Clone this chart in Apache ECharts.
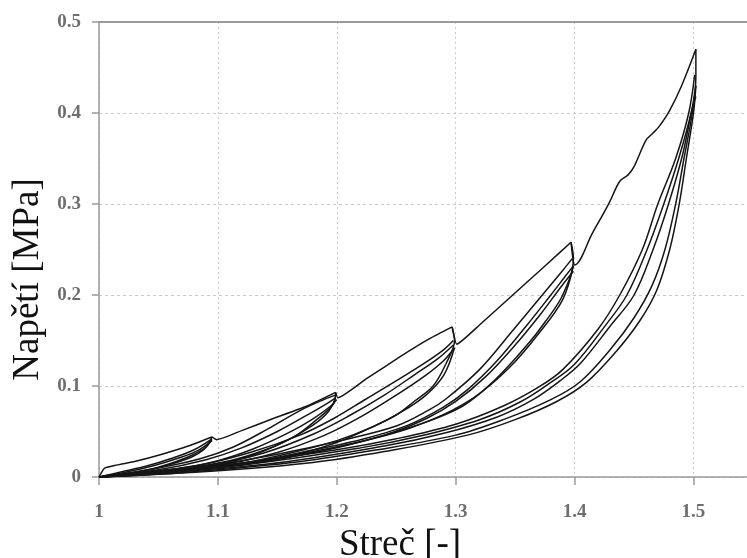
<!DOCTYPE html>
<html>
<head>
<meta charset="utf-8">
<script src="https://cdn.jsdelivr.net/npm/echarts@6/dist/echarts.min.js"></script>
<style>
  html, body { margin: 0; padding: 0; background: #fff; }
  #chart { width: 747px; height: 558px; }
</style>
</head>
<body>
<div id="chart"></div>
<script>
// osa x / y
var xTicks = [1, 1.1, 1.2, 1.3, 1.4, 1.5];
var yTicks = [0, 0.1, 0.2, 0.3, 0.4, 0.5];

// prvni zatizeni (obalka) po urovnich 1.1 .. 1.5
var virgin1 = [[1.0,0],[1.005,0.010],[1.03,0.017],[1.053,0.025],[1.075,0.034],[1.095,0.044]];
var virgin2 = [[1.095,0.044],[1.099,0.041],[1.12,0.051],[1.146,0.064],[1.175,0.078],[1.199,0.093]];
var virgin3 = [[1.199,0.093],[1.201,0.087],[1.225,0.108],[1.253,0.132],[1.278,0.152],[1.297,0.165]];
var virgin4 = [[1.297,0.165],[1.301,0.146],[1.32,0.167],[1.348,0.200],[1.376,0.233],[1.397,0.258]];
var virgin5 = [[1.397,0.258],[1.399,0.236],[1.40,0.233],[1.415,0.268],[1.429,0.301],[1.438,0.325],[1.445,0.332],[1.45,0.341],[1.46,0.370],[1.466,0.378],[1.471,0.385],[1.48,0.403],[1.49,0.430],[1.502,0.470]];

// uroven 1.1
var up1a = [[1.0,0],[1.02,0.006],[1.04,0.012],[1.06,0.020],[1.08,0.030],[1.095,0.042]];
var up1b = [[1.0,0],[1.025,0.006],[1.045,0.012],[1.065,0.020],[1.083,0.029],[1.095,0.040]];
var dn1a = [[1.095,0.044],[1.09,0.033],[1.08,0.025],[1.065,0.017],[1.045,0.009],[1.02,0.003],[1.0,0]];
var dn1b = [[1.095,0.041],[1.088,0.030],[1.078,0.022],[1.06,0.014],[1.04,0.007],[1.02,0.002],[1.0,0]];

// uroven 1.2
var up2a = [[1.0,0],[1.05,0.010],[1.085,0.020],[1.113,0.033],[1.141,0.052],[1.169,0.073],[1.189,0.085],[1.199,0.090]];
var up2b = [[1.0,0],[1.05,0.008],[1.09,0.019],[1.12,0.032],[1.15,0.050],[1.175,0.068],[1.192,0.081],[1.199,0.087]];
var up2c = [[1.0,0],[1.06,0.008],[1.1,0.018],[1.13,0.031],[1.16,0.049],[1.18,0.064],[1.195,0.078],[1.2,0.085]];
var dn2a = [[1.199,0.093],[1.197,0.080],[1.183,0.063],[1.165,0.045],[1.14,0.030],[1.11,0.018],[1.07,0.009],[1.03,0.003],[1.0,0]];
var dn2b = [[1.199,0.087],[1.193,0.072],[1.18,0.057],[1.155,0.038],[1.127,0.023],[1.09,0.012],[1.05,0.005],[1.0,0]];

// uroven 1.3
var up3a = [[1.0,0],[1.08,0.012],[1.127,0.027],[1.169,0.046],[1.197,0.064],[1.225,0.086],[1.253,0.108],[1.276,0.127],[1.29,0.140],[1.298,0.150]];
var up3b = [[1.0,0],[1.09,0.012],[1.14,0.027],[1.18,0.047],[1.21,0.067],[1.24,0.090],[1.265,0.112],[1.285,0.130],[1.298,0.145]];
var up3c = [[1.0,0],[1.1,0.013],[1.15,0.027],[1.19,0.046],[1.22,0.066],[1.25,0.090],[1.275,0.112],[1.29,0.128],[1.299,0.142]];
var dn3a = [[1.297,0.165],[1.299,0.150],[1.292,0.125],[1.281,0.100],[1.265,0.083],[1.25,0.068],[1.225,0.052],[1.2,0.038],[1.17,0.026],[1.141,0.018],[1.09,0.009],[1.04,0.003],[1.0,0]];
var dn3b = [[1.299,0.142],[1.29,0.112],[1.275,0.090],[1.255,0.072],[1.23,0.055],[1.2,0.040],[1.16,0.026],[1.12,0.015],[1.06,0.005],[1.0,0]];

// uroven 1.4
var up4a = [[1.0,0],[1.1,0.014],[1.15,0.025],[1.2,0.039],[1.25,0.056],[1.278,0.074],[1.292,0.086],[1.32,0.118],[1.348,0.161],[1.376,0.205],[1.39,0.227],[1.398,0.240]];
var up4b = [[1.0,0],[1.12,0.015],[1.17,0.027],[1.22,0.041],[1.26,0.057],[1.29,0.077],[1.31,0.096],[1.335,0.128],[1.36,0.167],[1.38,0.200],[1.393,0.222],[1.399,0.232]];
var up4c = [[1.0,0],[1.13,0.015],[1.19,0.030],[1.24,0.046],[1.275,0.064],[1.3,0.083],[1.325,0.110],[1.35,0.145],[1.372,0.180],[1.388,0.208],[1.399,0.226]];
var dn4a = [[1.397,0.258],[1.399,0.240],[1.39,0.200],[1.375,0.170],[1.362,0.148],[1.334,0.108],[1.306,0.078],[1.264,0.055],[1.236,0.044],[1.2,0.033],[1.15,0.021],[1.1,0.012],[1.05,0.005],[1.0,0]];
var dn4b = [[1.399,0.232],[1.39,0.195],[1.37,0.158],[1.345,0.120],[1.315,0.087],[1.28,0.063],[1.24,0.046],[1.2,0.032],[1.15,0.020],[1.08,0.009],[1.0,0]];

// uroven 1.5
var up5a = [[1.0,0],[1.1,0.012],[1.2,0.030],[1.25,0.042],[1.30,0.058],[1.34,0.078],[1.37,0.099],[1.39,0.118],[1.42,0.163],[1.438,0.200],[1.457,0.250],[1.47,0.300],[1.485,0.350],[1.496,0.400],[1.501,0.442]];
var up5b = [[1.0,0],[1.12,0.013],[1.22,0.032],[1.27,0.045],[1.32,0.063],[1.355,0.083],[1.38,0.104],[1.40,0.124],[1.425,0.165],[1.444,0.200],[1.461,0.250],[1.475,0.300],[1.488,0.352],[1.498,0.400],[1.502,0.430]];
var up5c = [[1.0,0],[1.14,0.014],[1.24,0.034],[1.29,0.048],[1.335,0.066],[1.365,0.085],[1.388,0.106],[1.405,0.125],[1.43,0.166],[1.45,0.200],[1.466,0.250],[1.479,0.300],[1.491,0.355],[1.499,0.405],[1.502,0.418]];
var dn5a = [[1.502,0.470],[1.502,0.440],[1.499,0.400],[1.492,0.350],[1.485,0.300],[1.476,0.250],[1.465,0.210],[1.45,0.175],[1.43,0.140],[1.405,0.105],[1.38,0.085],[1.34,0.063],[1.30,0.046],[1.23,0.029],[1.17,0.017],[1.10,0.008],[1.05,0.003],[1.0,0]];
var dn5b = [[1.502,0.430],[1.500,0.400],[1.494,0.350],[1.488,0.300],[1.48,0.250],[1.469,0.205],[1.455,0.172],[1.435,0.138],[1.41,0.104],[1.385,0.083],[1.35,0.063],[1.31,0.046],[1.24,0.028],[1.18,0.016],[1.10,0.007],[1.0,0]];

var curves = [
    virgin1, virgin2, virgin3, virgin4, virgin5,
    up1a, up1b, dn1a, dn1b,
    up2a, up2b, up2c, dn2a, dn2b,
    up3a, up3b, up3c, dn3a, dn3b,
    up4a, up4b, up4c, dn4a, dn4b,
    up5a, up5b, up5c, dn5a, dn5b
];

var chart = echarts.init(document.getElementById('chart'));
var serif = '"Liberation Serif", "DejaVu Serif", serif';

function tickText(list) {
    return function (v) {
        var r = Math.round(v * 10) / 10;
        return list.indexOf(r) >= 0 ? String(r) : '';
    };
}

var option = {
    animation: false,
    grid: { left: 99, right: 0, top: 22, bottom: 81, containLabel: false, outerBoundsMode: 'none' },
    xAxis: [{
        type: 'value',
        min: 1,
        max: 1.545,
        interval: 0.1,
        name: 'Streč [-]',
        nameLocation: 'middle',
        nameGap: 42,
        nameTextStyle: { fontFamily: serif, fontSize: 37, color: '#111', padding: [0, 46, 0, 0] },
        axisLine: { lineStyle: { color: '#9a9a9a', width: 1.5 } },
        axisTick: { inside: false, length: 8, lineStyle: { color: '#9a9a9a', width: 1.5 } },
        axisLabel: {
            margin: 26, showMaxLabel: false,
            fontFamily: serif, fontSize: 19, fontWeight: 'bold', color: '#6e6e6e',
            formatter: tickText(xTicks)
        },
        splitLine: { show: true, lineStyle: { color: '#cacaca', type: [2, 3], width: 1 } }
    }, {
        // horni okraj
        type: 'value', position: 'top', min: 1, max: 1.545,
        axisLine: { show: true, onZero: false, lineStyle: { color: '#9a9a9a', width: 2 } },
        axisTick: { show: false }, axisLabel: { show: false }, splitLine: { show: false }
    }],
    yAxis: {
        type: 'value',
        min: 0,
        max: 0.5,
        interval: 0.1,
        name: 'Napětí [MPa]',
        nameLocation: 'middle',
        nameGap: 50,
        nameTextStyle: { fontFamily: serif, fontSize: 37, color: '#111', padding: [0, 60, 0, 0] },
        axisLine: { show: true, lineStyle: { color: '#9a9a9a', width: 1.5 } },
        axisTick: { show: true, length: 7, lineStyle: { color: '#9a9a9a', width: 1.5 } },
        axisLabel: {
            margin: 18, fontFamily: serif, fontSize: 19, fontWeight: 'bold', color: '#6e6e6e',
            formatter: tickText(yTicks)
        },
        splitLine: { show: true, lineStyle: { color: '#cacaca', type: [3, 3], width: 1 } }
    },
    series: curves.map(function (c, i) {
        return {
            type: 'line',
            xAxisIndex: 0,
            data: c,
            // obalka mene vyhlazena, at nevznikaji vlnky
            smooth: i < 4 ? 0.15 : 0.35,
            showSymbol: false,
            silent: true,
            lineStyle: { color: '#151515', width: 1.5 }
        };
    })
};

chart.setOption(option);
window.addEventListener('resize', function () { chart.resize(); });
</script>
</body>
</html>
